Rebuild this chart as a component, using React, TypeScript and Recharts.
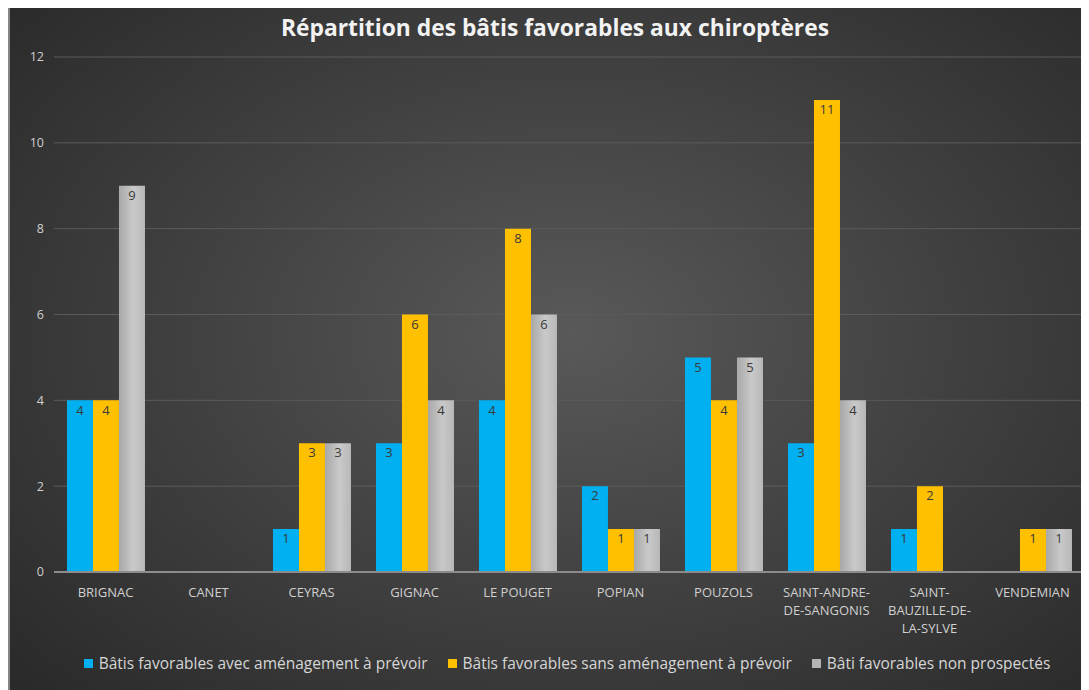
import React from 'react';
import { BarChart, Bar, XAxis, YAxis, CartesianGrid, Legend, LabelList } from 'recharts';

const communes = [
  'BRIGNAC',
  'CANET',
  'CEYRAS',
  'GIGNAC',
  'LE POUGET',
  'POPIAN',
  'POUZOLS',
  'SAINT-ANDRE-\nDE-SANGONIS',
  'SAINT-\nBAUZILLE-DE-\nLA-SYLVE',
  'VENDEMIAN',
];

const avecAmenagement = [4, null, 1, 3, 4, 2, 5, 3, 1, null];
const sansAmenagement = [4, null, 3, 6, 8, 1, 4, 11, 2, 1];
const nonProspectes = [9, null, 3, 4, 6, 1, 5, 4, null, 1];

const yTicks = [0, 2, 4, 6, 8, 10, 12];

const series = [
  { key: 'avec', name: 'Bâtis favorables avec aménagement à prévoir', color: '#00b0f0', fill: '#00b0f0' },
  { key: 'sans', name: 'Bâtis favorables sans aménagement à prévoir', color: '#ffc000', fill: '#ffc000' },
  { key: 'non', name: 'Bâti favorables non prospectés', color: '#b4b4b4', fill: 'url(#grayBar)' },
];

const data = communes.map((c, i) => ({
  commune: c,
  avec: avecAmenagement[i],
  sans: sansAmenagement[i],
  non: nonProspectes[i],
}));

const FONT = '"Open Sans", "Noto Sans", sans-serif';

const CommuneTick = (props: any) => {
  const { x, y, payload } = props;
  const lines = String(payload.value).split('\n');
  return (
    <text x={x} y={y} textAnchor="middle" fill="#d0d0d0" fontSize={13} fontFamily={FONT}>
      {lines.map((l, i) => (
        <tspan key={i} x={x} dy={i === 0 ? 17 : 18}>
          {l}
        </tspan>
      ))}
    </text>
  );
};

const LegendContent = () => (
  <div
    style={{
      display: 'flex',
      justifyContent: 'center',
      gap: 20,
      fontFamily: FONT,
      fontSize: 15.5,
      color: '#d6d6d6',
      paddingLeft: 30,
      whiteSpace: 'nowrap',
    }}
  >
    {series.map((s) => (
      <div key={s.key} style={{ display: 'flex', alignItems: 'center' }}>
        <span style={{ width: 9, height: 9, background: s.color, marginRight: 6, display: 'inline-block' }} />
        {s.name}
      </div>
    ))}
  </div>
);

const App: React.FC = () => {
  return (
    <div
      style={{
        marginTop: -3,
        width: 1079,
        height: 685,
        borderLeft: '2px solid #858585',
        background: 'radial-gradient(ellipse 70% 75% at 52% 48%, #595959 0%, #414141 50%, #2a2a2a 100%)',
        position: 'relative',
      }}
    >
      <BarChart
        width={1079}
        height={685}
        data={data}
        margin={{ top: 52, right: 5, left: 10, bottom: 18 }}
        barCategoryGap="12.6%"
        barGap={0}
      >
        <defs>
          <linearGradient id="grayBar" x1="0" y1="0" x2="1" y2="0">
            <stop offset="0%" stopColor="#a8a8a8" />
            <stop offset="55%" stopColor="#c9c9c9" />
            <stop offset="100%" stopColor="#b8b8b8" />
          </linearGradient>
        </defs>
        <text
          x={545}
          y={31}
          textAnchor="middle"
          fill="#f2f2f2"
          fontSize={22.8}
          fontWeight={700}
          fontFamily={FONT}
        >
          Répartition des bâtis favorables aux chiroptères
        </text>
        <CartesianGrid vertical={false} stroke="#5b5b5b" strokeWidth={1} />
        <XAxis
          dataKey="commune"
          interval={0}
          height={80}
          tickLine={false}
          axisLine={{ stroke: '#8c8c8c', strokeWidth: 2 }}
          tick={<CommuneTick />}
        />
        <YAxis
          domain={[0, 12]}
          ticks={yTicks}
          width={34}
          tickLine={false}
          axisLine={false}
          tickSize={0}
          tickMargin={10}
          tick={{ fill: '#d0d0d0', fontSize: 12.5, fontFamily: FONT }}
        />
        <Legend verticalAlign="bottom" height={20} content={<LegendContent />} />
        {series.map((s) => (
          <Bar key={s.key} dataKey={s.key} name={s.name} fill={s.fill} isAnimationActive={false}>
            <LabelList
              dataKey={s.key}
              position="insideTop"
              offset={5}
              fill="#3a3a3a"
              fontSize={13}
              fontFamily={FONT}
            />
          </Bar>
        ))}
      </BarChart>
    </div>
  );
};

export default App;
